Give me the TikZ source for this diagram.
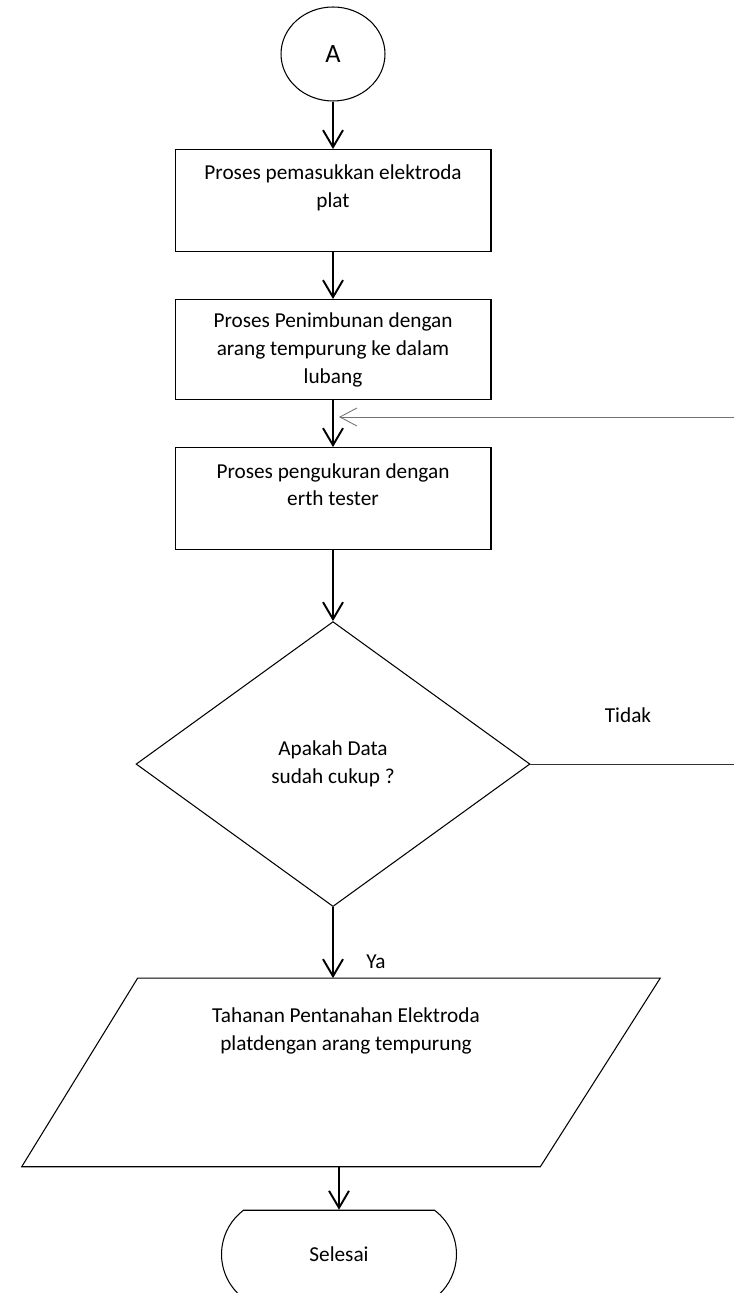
\documentclass[tikz,border=0pt]{standalone}
\usepackage{fontspec}
\setmainfont{Carlito}
\usetikzlibrary{arrows.meta}
\usetikzlibrary{positioning}
\usetikzlibrary{shapes.geometric}
\usetikzlibrary{shapes.misc}
\usetikzlibrary{calc}

\begin{document}
\begin{tikzpicture}[x=0.02cm,y=-0.02cm,>={Straight Barb[length=0.34cm,width=0.4cm]},
                    font=\fontsize{12.1}{15.9}\selectfont,
                    proses/.style={rectangle,draw,line width=0.6pt,minimum width=6.32cm,minimum height=2.04cm,align=center,inner sep=0pt},
                    konektor/.style={ellipse,draw,line width=0.6pt,minimum width=2.08cm,minimum height=1.88cm,inner sep=0pt,font=\fontsize{15}{17}\selectfont},
                    keputusan/.style={diamond,draw,line width=0.6pt,minimum width=7.88cm,minimum height=5.7cm,inner sep=0pt,align=center},
                    io/.style={rectangle,minimum width=10.4cm,minimum height=3.76cm,inner sep=0pt,align=center,font=\fontsize{12.1}{16.4}\selectfont},
                    terminal/.style={rounded rectangle,rounded rectangle arc length=106,draw,line width=0.6pt,minimum width=4.7cm,minimum height=1.76cm,inner sep=0pt},
                    alur/.style={draw,->,line width=1.1pt}]

  \useasboundingbox (0,0) rectangle (734,1293);

  \node[konektor] (A) at (333,54) {A};

  \node[proses] (p1) [below=0.95cm of A] {Proses pemasukkan elektroda\\plat\\~};
  \node[proses, minimum height=2.0cm] (p2) [below=0.94cm of p1] {Proses Penimbunan dengan\\arang tempurung ke dalam\\lubang};
  \node[proses] (p3) [below=0.94cm of p2] {Proses pengukuran dengan\\erth tester\\~};

  \node[keputusan] (cek) [below=1.42cm of p3] {Apakah Data\\sudah cukup ?};

  \node[io] (hasil) [below=1.42cm of cek, xshift=0.26cm] {Tahanan Pentanahan Elektroda\\platdengan arang tempurung\\~\\~\\~};
  % jajaran genjang untuk output
  \draw[line width=0.6pt] ([xshift=1.04cm]hasil.north west) -- ([xshift=1.08cm]hasil.north east)
    -- ([xshift=-1.32cm]hasil.south east) -- ([xshift=-1.28cm]hasil.south west) -- cycle;

  \node[terminal] (selesai) [below=0.86cm of hasil, xshift=-0.14cm] {Selesai};

  \node (tidak) at (628,715) {Tidak};
  \node (ya) at (376,962) {Ya};

  \coordinate (ujung) at (734,762);
  \coordinate (balik) at (734,417);
  \coordinate (masuk) at ($(balik -| p2.south)+(6,0)$);

  \path
  	(A) edge[alur] (p1)
  	(p1) edge[alur] (p2)
  	(p2) edge[alur] (p3)
  	(p3) edge[alur] (cek)
  	(cek.south) edge[alur] (cek.south |- hasil.north)
  	(selesai.north |- hasil.south) edge[alur] (selesai.north)
  	;

  \draw[line width=0.6pt, black!80] (cek.east) -- (cek.east -| ujung);
  \draw[->, line width=0.5pt, black!55, >={Straight Barb[length=0.34cm,width=0.36cm]}] (balik) -- (masuk);
\end{tikzpicture}
\end{document}
